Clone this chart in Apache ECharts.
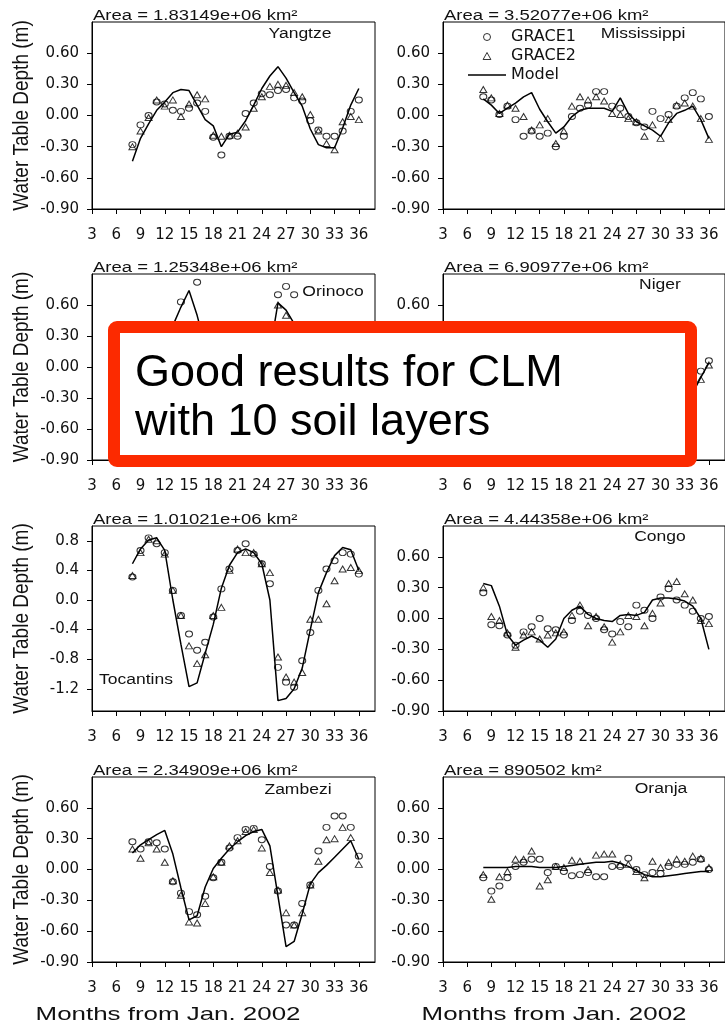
<!DOCTYPE html>
<html>
<head>
<meta charset="utf-8">
<script src="https://cdn.jsdelivr.net/npm/echarts@6/dist/echarts.min.js"></script>
<style>
  html, body { margin: 0; padding: 0; background: #fff; }
  #chart { width: 725px; height: 1027px; }
</style>
</head>
<body>
<div id="chart"></div>
<script>
// Months since Jan. 2002 at which each basin series is sampled
const months = [8,9,10,11,12,13,14,15,16,17,18,19,20,21,22,23,24,25,26,27,28,29,30,31,32,33,34,35,36];

// Water table depth anomalies (m): Model line, GRACE1 (circles), GRACE2 (triangles)
const yangtzeModel  = [-0.44,-0.22,-0.08,0.05,0.13,0.22,0.25,0.24,0.10,-0.04,-0.10,-0.30,-0.18,-0.16,-0.05,0.10,0.26,0.38,0.47,0.36,0.22,0.09,-0.13,-0.28,-0.31,-0.31,-0.12,0.10,0.26];
const yangtzeGrace1 = [-0.28,-0.09,0.00,0.13,0.11,0.05,0.04,0.07,0.12,0.04,-0.21,-0.38,-0.20,-0.20,0.02,0.12,0.21,0.20,0.24,0.25,0.17,0.14,-0.05,-0.14,-0.20,-0.20,-0.15,0.04,0.15];
const yangtzeGrace2 = [-0.30,-0.15,-0.02,0.15,0.09,0.15,-0.01,0.11,0.20,0.16,-0.19,-0.20,-0.19,-0.17,-0.11,0.07,0.18,0.28,0.30,0.29,0.22,0.18,0.01,-0.15,-0.27,-0.33,-0.06,-0.01,-0.04];

const mississippiModel  = [0.16,0.10,0.02,0.07,0.12,0.18,0.22,0.06,-0.06,-0.17,-0.11,-0.01,0.05,0.07,0.07,0.07,0.04,0.17,0.02,-0.06,-0.10,-0.14,-0.20,-0.07,0.02,0.05,0.09,-0.04,-0.22];
const mississippiGrace1 = [0.18,0.15,0.01,0.09,-0.04,-0.20,-0.15,-0.20,-0.17,-0.30,-0.20,-0.01,0.07,0.10,0.23,0.23,0.09,0.07,-0.01,-0.07,-0.11,0.04,-0.03,0.01,0.09,0.17,0.22,0.16,-0.01];
const mississippiGrace2 = [0.25,0.17,0.02,0.10,0.07,-0.01,-0.14,-0.09,-0.03,-0.27,-0.15,0.09,0.18,0.15,0.18,0.14,0.02,0.01,-0.03,-0.06,-0.20,-0.09,-0.22,-0.04,0.10,0.12,0.09,-0.03,-0.23];

const orinocoModel  = [-0.30,-0.45,-0.55,-0.40,-0.05,0.40,0.58,0.74,0.50,0.20,-0.15,-0.40,-0.58,-0.66,-0.55,-0.35,-0.10,0.15,0.62,0.55,0.42,0.10,-0.25,-0.50,-0.66,-0.70,-0.55,-0.30,0.00];
const orinocoGrace1 = [-0.25,-0.40,-0.50,-0.35,0.00,0.30,0.63,0.38,0.82,0.25,-0.10,-0.40,-0.55,-0.62,-0.50,-0.30,0.05,0.35,0.70,0.78,0.70,0.30,-0.20,-0.45,-0.60,-0.65,-0.50,-0.25,0.05];
const orinocoGrace2 = [-0.30,-0.42,-0.48,-0.30,0.05,0.25,0.36,0.38,0.32,0.20,-0.15,-0.38,-0.50,-0.60,-0.52,-0.28,0.00,0.30,0.60,0.50,0.35,0.20,-0.15,-0.40,-0.58,-0.62,-0.45,-0.20,0.10];

const nigerModel  = [0.05,-0.05,-0.12,-0.18,-0.20,-0.15,-0.05,0.10,0.20,0.22,0.10,-0.05,-0.15,-0.22,-0.25,-0.20,-0.10,0.05,0.18,0.25,0.20,0.08,-0.05,-0.15,-0.22,-0.26,-0.25,-0.10,0.04];
const nigerGrace1 = [0.08,-0.02,-0.10,-0.15,-0.18,-0.12,-0.02,0.08,0.18,0.15,0.05,-0.08,-0.12,-0.18,-0.20,-0.15,-0.05,0.10,0.20,0.22,0.15,0.05,-0.08,-0.12,-0.18,-0.20,-0.15,-0.04,0.06];
const nigerGrace2 = [0.04,-0.06,-0.12,-0.20,-0.16,-0.10,0.02,0.12,0.14,0.18,0.02,-0.10,-0.16,-0.20,-0.18,-0.12,-0.02,0.06,0.16,0.18,0.12,0.02,-0.10,-0.16,-0.20,-0.22,-0.18,-0.12,0.02];

const tocantinsModel  = [0.49,0.69,0.81,0.84,0.67,0.00,-0.60,-1.17,-1.12,-0.72,-0.33,0.16,0.47,0.64,0.69,0.64,0.49,0.00,-1.36,-1.33,-1.20,-0.92,-0.40,0.10,0.37,0.60,0.71,0.68,0.40];
const tocantinsGrace1 = [0.31,0.67,0.84,0.76,0.64,0.13,-0.21,-0.46,-0.68,-0.57,-0.23,0.15,0.42,0.67,0.76,0.62,0.49,0.22,-0.91,-1.11,-1.18,-0.82,-0.44,0.13,0.42,0.53,0.64,0.62,0.35];
const tocantinsGrace2 = [0.33,0.64,0.82,0.80,0.62,0.13,-0.21,-0.62,-0.86,-0.74,-0.21,-0.10,0.40,0.69,0.64,0.64,0.49,0.37,-0.77,-1.04,-1.11,-0.98,-0.26,-0.26,-0.05,0.26,0.42,0.44,0.40];

const congoModel  = [0.34,0.32,0.12,-0.16,-0.26,-0.21,-0.17,-0.21,-0.28,-0.20,0.00,0.08,0.12,0.04,0.00,-0.02,-0.03,0.03,0.04,0.03,0.06,0.18,0.20,0.20,0.19,0.17,0.12,0.00,-0.30];
const congoGrace1 = [0.25,-0.06,-0.07,-0.16,-0.26,-0.13,-0.08,0.00,-0.10,-0.11,-0.16,-0.02,0.07,0.03,0.00,-0.11,-0.15,-0.03,-0.08,0.13,0.08,0.00,0.21,0.29,0.18,0.13,0.07,0.00,0.02];
const congoGrace2 = [0.30,0.02,-0.02,-0.14,-0.28,-0.16,-0.13,-0.20,-0.16,-0.14,-0.13,0.03,0.13,-0.07,0.02,-0.08,-0.23,-0.13,0.03,0.02,-0.07,0.05,0.15,0.34,0.36,0.24,0.18,-0.02,-0.05];

const zambeziModel  = [0.16,0.24,0.29,0.34,0.38,0.15,-0.18,-0.49,-0.45,-0.17,0.01,0.11,0.20,0.27,0.33,0.37,0.39,0.23,-0.26,-0.75,-0.70,-0.43,-0.14,-0.03,0.04,0.12,0.20,0.28,0.10];
const zambeziGrace1 = [0.27,0.20,0.27,0.26,0.20,-0.12,-0.23,-0.41,-0.44,-0.26,-0.08,0.07,0.21,0.31,0.39,0.40,0.29,0.03,-0.21,-0.54,-0.54,-0.33,-0.15,0.18,0.41,0.52,0.52,0.41,0.13];
const zambeziGrace2 = [0.20,0.11,0.26,0.20,0.07,-0.11,-0.25,-0.51,-0.52,-0.33,-0.07,0.07,0.23,0.28,0.37,0.39,0.21,-0.03,-0.20,-0.42,-0.54,-0.42,-0.15,0.08,0.29,0.30,0.41,0.31,0.05];

const oranjaModel  = [0.02,0.02,0.02,0.02,0.03,0.03,0.03,0.02,0.02,0.02,0.03,0.04,0.05,0.06,0.07,0.07,0.08,0.06,0.03,-0.01,-0.05,-0.07,-0.07,-0.06,-0.05,-0.04,-0.03,-0.02,-0.02];
const oranjaGrace1 = [-0.08,-0.21,-0.16,-0.08,0.03,0.07,0.10,0.10,-0.03,0.03,-0.02,-0.06,-0.05,-0.03,-0.07,-0.07,0.03,0.03,0.11,0.00,-0.05,-0.03,-0.04,0.03,0.05,0.05,0.07,0.10,0.00];
const oranjaGrace2 = [-0.05,-0.29,-0.07,-0.02,0.10,0.10,0.18,-0.16,-0.10,0.03,0.02,0.09,0.08,0.00,0.14,0.15,0.15,0.05,0.05,-0.02,-0.08,0.08,0.02,0.07,0.10,0.08,0.13,0.11,0.02];

// Basin labels and drainage areas
const basinNames = ['Yangtze','Mississippi','Orinoco','Niger','Tocantins','Congo','Zambezi','Oranja'];
const basinAreas = ['1.83149e+06','3.52077e+06','1.25348e+06','6.90977e+06','1.01021e+06','4.44358e+06','2.34909e+06','890502'];

// Tick labels
const xTicks = [3,6,9,12,15,18,21,24,27,30,33,36];
const yTicksStd = [-0.9,-0.6,-0.3,0,0.3,0.6];
const yTicksToc = [-1.2,-0.8,-0.4,0,0.4,0.8];

const modelSets  = [yangtzeModel, mississippiModel, orinocoModel, nigerModel, tocantinsModel, congoModel, zambeziModel, oranjaModel];
const grace1Sets = [yangtzeGrace1, mississippiGrace1, orinocoGrace1, nigerGrace1, tocantinsGrace1, congoGrace1, zambeziGrace1, oranjaGrace1];
const grace2Sets = [yangtzeGrace2, mississippiGrace2, orinocoGrace2, nigerGrace2, tocantinsGrace2, congoGrace2, zambeziGrace2, oranjaGrace2];

// Panel layout (pixels)
const colLeft = [92, 443];
const colWidth = [283, 283];
const rowTop = [22, 274, 526, 777];
const rowHeight = [187, 186, 185, 185];
const namePos = [[300,34],[643,34],[333,292],[660,285],[136,680],[660,537],[298,790],[661,789]];

const TICK_FONT = '"DejaVu Sans", sans-serif';
const TEXT_FONT = '"Liberation Sans", Arial, sans-serif';

function text(str, x, y, size, align, vAlign, sx, sy, extra) {
  return Object.assign({
    type: 'text', x: x, y: y, scaleX: sx || 1, scaleY: sy || 1, z: 10, silent: true,
    style: {
      text: str, font: size + 'px ' + TEXT_FONT, fill: '#111',
      align: align, verticalAlign: vAlign, textAlign: align, textVerticalAlign: vAlign
    }
  }, extra || {});
}

const grids = [], xAxes = [], yAxes = [], series = [], graphics = [];

basinNames.forEach(function (name, i) {
  const r = Math.floor(i / 2), c = i % 2;
  const isToc = name === 'Tocantins';
  const yTicks = isToc ? yTicksToc : yTicksStd;

  grids.push({
    left: colLeft[c], top: rowTop[r], width: colWidth[c], height: rowHeight[r],
    show: true, borderColor: '#000', borderWidth: 1, backgroundColor: 'transparent'
  });

  xAxes.push({
    gridIndex: i, type: 'value', min: 3, max: 38,
    axisLine: { show: true, onZero: false, lineStyle: { color: '#000', width: 1 } },
    axisTick: { show: true, length: 5, customValues: xTicks, lineStyle: { color: '#000' } },
    axisLabel: { customValues: xTicks, margin: 19, fontFamily: TICK_FONT, fontSize: 15, color: '#111' },
    splitLine: { show: false }
  });

  yAxes.push({
    gridIndex: i, type: 'value',
    min: isToc ? -1.5 : -0.9, max: isToc ? 1.0 : 0.9,
    axisLine: { show: true, onZero: false, lineStyle: { color: '#000', width: 1 } },
    axisTick: { show: true, length: 5, customValues: yTicks, lineStyle: { color: '#000' } },
    axisLabel: {
      customValues: yTicks, margin: 13, fontFamily: TICK_FONT, fontSize: 15, color: '#111',
      formatter: function (v) { return v.toFixed(isToc ? 1 : 2); }
    },
    splitLine: { show: false }
  });

  const pts = function (arr) { return months.map(function (m, k) { return [m, arr[k]]; }); };

  series.push({
    type: 'line', name: 'Model', xAxisIndex: i, yAxisIndex: i,
    data: pts(modelSets[i]), symbol: 'none', z: 2,
    lineStyle: { color: '#000', width: 1.5 }, itemStyle: { color: '#000' }
  });
  series.push({
    type: 'scatter', name: 'GRACE1', xAxisIndex: i, yAxisIndex: i,
    data: pts(grace1Sets[i]), symbol: 'circle', symbolSize: [7, 6], z: 3,
    itemStyle: { color: 'rgba(255,255,255,0)', borderColor: '#000', borderWidth: 1 }
  });
  series.push({
    type: 'scatter', name: 'GRACE2', xAxisIndex: i, yAxisIndex: i,
    data: pts(grace2Sets[i]), symbol: 'triangle', symbolSize: [7, 6], z: 3,
    itemStyle: { color: 'rgba(255,255,255,0)', borderColor: '#000', borderWidth: 1 }
  });

  // Drainage area above each panel
  graphics.push(text('Area = ' + basinAreas[i] + ' km\u00B2', colLeft[c] + 1, rowTop[r] + 1, 14, 'left', 'bottom', 1.32));
  // Basin name inside the panel
  graphics.push(text(name, namePos[i][0], namePos[i][1], 14, 'center', 'middle', 1.25));
  // Y axis title on the left column
  if (c === 0) {
    graphics.push(text('Water Table Depth (m)', 22, rowTop[r] + rowHeight[r] / 2, 19, 'center', 'middle', 1, 1.2,
      { rotation: Math.PI / 2 }));
  }
});

// X axis titles under the bottom row
graphics.push(text('Months from Jan. 2002', 168, 1015, 18.5, 'center', 'middle', 1.4));
graphics.push(text('Months from Jan. 2002', 554, 1015, 18.5, 'center', 'middle', 1.4));

// Callout box
graphics.push({
  type: 'rect', z: 100, silent: true,
  shape: { x: 114, y: 327, width: 577, height: 134, r: 3 },
  style: { fill: '#fff', stroke: '#fc2a00', lineWidth: 12 }
});
const callout1 = text('Good results for CLM', 135, 374, 45, 'left', 'middle', 1, 1, { z: 101 });
const callout2 = text('with 10 soil layers', 135, 423, 45, 'left', 'middle', 1, 1, { z: 101 });
callout1.style.fill = '#000';
callout2.style.fill = '#000';
graphics.push(callout1, callout2);

const chart = echarts.init(document.getElementById('chart'), null, { renderer: 'canvas' });
chart.setOption({
  backgroundColor: '#fff',
  animation: false,
  grid: grids,
  xAxis: xAxes,
  yAxis: yAxes,
  legend: {
    left: 468, top: 29, orient: 'vertical', padding: 0,
    itemWidth: 38, itemHeight: 7, itemGap: 3, selectedMode: false,
    itemStyle: { borderWidth: 1 },
    data: [
      { name: 'GRACE1', icon: 'circle' },
      { name: 'GRACE2', icon: 'path://M5,0 L10,9 L0,9 Z' },
      { name: 'Model', icon: 'path://M0,0 L38,0 L38,1.5 L0,1.5 Z', itemStyle: { color: '#000', borderWidth: 0 } }
    ],
    textStyle: { fontFamily: TICK_FONT, fontSize: 16, color: '#111' }
  },
  series: series,
  graphic: { elements: graphics }
});
</script>
</body>
</html>
